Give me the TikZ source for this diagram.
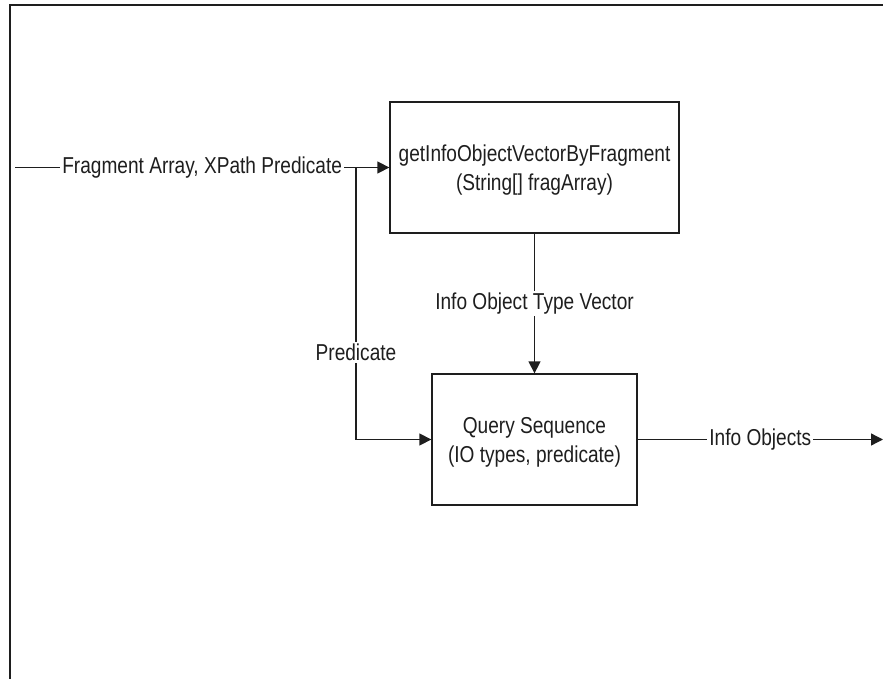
\documentclass[tikz,border=0pt]{standalone}
\usepackage{fontspec}
\setmainfont{Liberation Sans}[FakeStretch=0.83]
\usetikzlibrary{arrows.meta}
\definecolor{ink}{RGB}{30,30,30}
\tikzset{
  pbox/.style={draw=ink, line width=1.3pt, minimum width=289pt, minimum height=131pt, align=center, inner sep=0pt, text=ink, text depth=0pt},
  conn/.style={draw=ink, line width=1.3pt, -{Triangle[length=12pt,width=12pt]}},
  plain/.style={draw=ink, line width=1.3pt},
  lbl/.style={fill=white, inner sep=2pt, text=ink},
}
\begin{document}
\begin{tikzpicture}[x=1pt,y=-1pt, font=\fontsize{23}{29}\selectfont]
\useasboundingbox (0,0) rectangle (883,679);
% frame
\coordinate (f0) at (10,5);
\coordinate (f1) at (883,5);
\coordinate (f2) at (10,679);
\draw[plain] (f1) -- (f0) -- (f2);
% boxes
\node[pbox] (b1) at (534.5,167.5) {getInfoObjectVectorByFragment\\(String[] fragArray)};
\node[pbox, minimum width=205pt] (b2) at (534.5,439.5) {Query Sequence\\(IO types, predicate)};
% coordinates
\coordinate (in) at (15,167.5);
\coordinate (split) at (356,167.5);
\coordinate (corner) at (356,439.5);
\coordinate (out) at (883,439.5);
% connectors
\draw[conn] (in) -- node[lbl]{Fragment Array, XPath Predicate} (b1.west);
\draw[conn] (split) -- node[lbl, pos=0.68]{Predicate} (corner) -- (b2.west);
\draw[conn] (b1.south) -- node[lbl]{Info Object Type Vector} (b2.north);
\draw[conn] (b2.east) -- node[lbl]{Info Objects} (out);
\end{tikzpicture}
\end{document}
